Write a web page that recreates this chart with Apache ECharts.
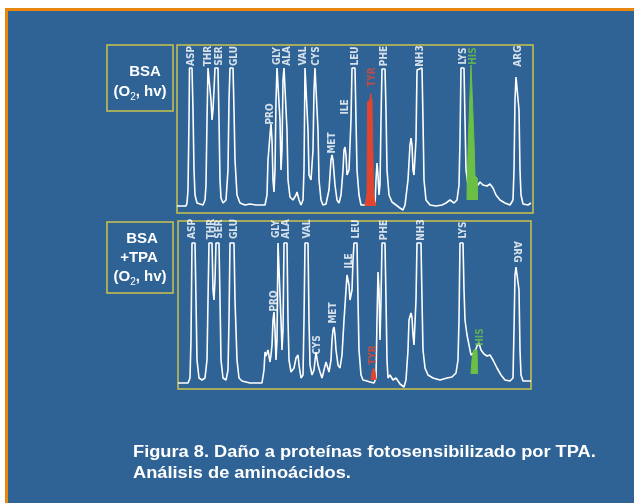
<!DOCTYPE html>
<html><head><meta charset="utf-8">
<script src="https://cdn.jsdelivr.net/npm/echarts@6/dist/echarts.min.js"></script>
<style>html,body{margin:0;padding:0;background:#fff}#c{width:634px;height:503px}</style>
</head><body><div id="c"></div>
<script>
// ---- Panel 1: BSA (O2, hv) chromatogram [retention, response] ----
const topTrace = [[0,7],[9,7],[10,10],[11,23],[12,93],[12.5,145],[15,145],[16,103],[17,43],[18,18],[20,10],[22,8],[26,8],[28,13],[29,28],[30,93],[31,145],[33,145],[34,113],[35,93],[36,103],[37,123],[38,145],[41,145],[42,93],[43,33],[44,15],[46,10],[49,13],[51,43],[52,113],[53,145],[56,145],[57,103],[58,53],[60,18],[63,10],[68,8],[73,9],[79,8],[88,8],[90,18],[91,53],[93,78],[94,89],[95,73],[96,33],[97,21],[98,43],[99,113],[100,145],[102,145],[103,93],[104,43],[105,63],[106,133],[107,145],[109,145],[110,83],[111,33],[113,16],[116,13],[119,18],[120,21],[122,13],[124,8],[126,13],[127,43],[128,145],[130,145],[131,83],[132,38],[134,33],[136,63],[137,123],[138,145],[140,145],[141,83],[142,33],[144,13],[146,8],[149,9],[152,23],[154,53],[155,58],[156,53],[158,28],[160,13],[162,10],[164,18],[166,43],[167,63],[168,66],[169,58],[170,38],[172,43],[174,93],[175,145],[178,145],[179,93],[180,43],[182,18],[184,8],[191,8],[198,8],[199,33],[200,50],[201,38],[202,18],[203,28],[204,93],[205,144],[208,144],[209,103],[210,43],[212,18],[215,11],[219,8],[223,5],[226,3],[228,8],[231,33],[233,68],[234,75],[235,68],[236,43],[237,38],[239,73],[240,143],[241,145],[245,145],[246,93],[247,33],[249,13],[253,8],[259,7],[265,8],[269,10],[273,13],[277,10],[280,13],[282,28],[283,73],[284,145],[287,145],[288,93],[289,43],[291,28],[293,21],[301,28],[303,31],[306,28],[310,27],[313,29],[316,25],[319,18],[323,13],[328,10],[333,8],[336,13],[337,43],[338,113],[339,136],[341,136],[342,103],[343,43],[344,18],[346,9],[351,8],[354,10]];
const topTyr = [[188,7],[189,13],[190,20],[190.5,111],[193,113],[193.5,120],[194.5,120],[195,113],[196.3,111],[196.5,20],[197.5,13],[199,7]];
const topHis = [[290,13],[290.3,35],[291.3,37],[291.3,70],[293,72],[294,148],[295.5,148],[297,72],[298,70],[298,37],[300.3,35],[300.5,13]];
const topLabelNames = ['ASP','THR','SER','GLU','GLY','ALA','VAL','CYS','LEU','PHE','NH3','LYS','HIS','ARG','PRO','MET','ILE','TYR'];
const topLabelX = [14,31,42,57,100,110,126,139,178,207,243,286,296,341,93,155,168,195];
const topLabelY = [157,157,157,157,157,157,157,157,157,157,157,157,157,157,99,70,106,136];

// ---- Panel 2: BSA + TPA (O2, hv) chromatogram ----
const botTrace = [[0,6],[10,6],[12,11],[13,49],[14,146],[17,146],[18,89],[19,29],[21,11],[24,9],[27,11],[29,29],[30,89],[31,146],[34,146],[35,99],[36,89],[37,109],[38,146],[41,146],[42,89],[43,29],[45,11],[48,9],[50,19],[51,69],[52,146],[56,146],[57,89],[59,29],[61,11],[64,8],[72,6],[84,6],[86,19],[87,37],[88,33],[90,39],[92,27],[93,34],[94,44],[95,69],[96,77],[97,59],[98,29],[99,49],[100,146],[102,146],[103,69],[104,39],[105,59],[106,146],[109,146],[110,69],[111,29],[113,17],[116,21],[118,31],[120,34],[121,24],[123,11],[125,14],[126,69],[127,146],[130,146],[131,69],[132,24],[134,14],[136,19],[138,37],[139,37],[140,24],[142,17],[144,11],[146,19],[148,27],[150,29],[151,17],[153,29],[154,49],[155,59],[156,62],[157,54],[158,39],[160,24],[162,21],[164,34],[166,69],[168,99],[169,114],[170,116],[171,104],[172,89],[174,99],[175,129],[176,146],[179,146],[180,89],[181,39],[183,14],[185,9],[189,8],[192,7],[196,6],[198,11],[199,69],[200,117],[201,99],[202,49],[203,89],[204,146],[207,146],[208,89],[209,29],[210,11],[212,14],[215,9],[218,11],[222,5],[226,2],[228,9],[230,39],[231,69],[233,76],[234,71],[235,54],[236,44],[238,89],[239,146],[243,146],[244,89],[245,39],[247,21],[250,14],[255,11],[262,9],[269,11],[274,12],[278,16],[280,29],[281,69],[282,146],[285,146],[286,99],[287,69],[289,54],[291,44],[293,34],[295,34],[297,37],[299,43],[301,46],[303,39],[306,35],[309,33],[312,34],[315,29],[319,21],[323,14],[327,9],[332,8],[335,11],[336,59],[337,114],[338,122],[340,122],[341,99],[342,39],[343,14],[345,8],[353,8]];
const botTyr = [[193,9],[194,17],[195.5,21],[197,17],[198,9]];
const botHis = [[293,15],[294,29],[295.5,39],[297,41],[299,39],[299.5,15]];
const botLabelNames = ['ASP','THR','SER','GLU','GLY','ALA','VAL','LEU','PHE','NH3','LYS','ARG','PRO','ILE','MET','CYS','TYR','HIS'];
const botLabelX = [14,33,41,56,98,108,129,178,206,243,285,339,96,171,155,139,195,302];
const botLabelY = [160,160,160,160,160,160,160,160,159,159,159,137,88,128,76,44,34,52];

const captionLines = ['Figura 8. Daño a proteínas fotosensibilizado por TPA.', 'Análisis de aminoácidos.'];

const BLUE = '#2F6396', YEL = '#CCC44C', RED = '#E2452F', GREEN = '#6CBF45';
const labFont = "'Liberation Sans Narrow','DejaVu Sans Condensed',sans-serif";
const boxFont = "bold 15px 'Liberation Sans',Arial,sans-serif";
const capFont = "bold 16px 'Liberation Sans',Arial,sans-serif";

function labelData(names, xs, ys, flipName) {
  return names.map((n, i) => ({
    value: [xs[i], ys[i]],
    name: n,
    label: {
      color: n === 'TYR' ? RED : (n === 'HIS' ? GREEN : '#FFFFFF'),
      rotate: n === flipName ? -90 : 90
    }
  }));
}
function trace(data, xi) {
  return { type: 'line', xAxisIndex: xi, yAxisIndex: xi, data: data, showSymbol: false, symbol: 'none',
    lineStyle: { color: '#FFFFFF', width: 1.6 }, z: 3, silent: true };
}
function fill(data, xi, color, origin) {
  return { type: 'line', xAxisIndex: xi, yAxisIndex: xi, data: data, showSymbol: false, symbol: 'none',
    lineStyle: { color: color, width: 1 }, areaStyle: { color: color, opacity: 1, origin: origin }, z: 4, silent: true };
}
function labels(data, xi) {
  return { type: 'scatter', xAxisIndex: xi, yAxisIndex: xi, data: data, symbolSize: 1,
    itemStyle: { color: 'rgba(0,0,0,0)' }, z: 5, silent: true,
    label: { show: true, position: 'inside', formatter: '{b}', fontFamily: labFont, fontSize: 10, fontWeight: 'bold', align: 'center', verticalAlign: 'middle' } };
}
const hidden = { show: false };
function xAx(i, max) { return { gridIndex: i, type: 'value', min: 0, max: max, show: false, splitLine: hidden }; }
function yAx(i) { return { gridIndex: i, type: 'value', min: 0, max: 168, show: false, splitLine: hidden }; }

const chart = echarts.init(document.getElementById('c'));
chart.setOption({
  animation: false,
  backgroundColor: '#FFFFFF',
  grid: [
    { left: 177, top: 45, width: 356, height: 168, show: true, borderColor: YEL, borderWidth: 1.5, backgroundColor: 'transparent' },
    { left: 178, top: 221, width: 353, height: 168, show: true, borderColor: YEL, borderWidth: 1.5, backgroundColor: 'transparent' }
  ],
  xAxis: [xAx(0, 356), xAx(1, 353)],
  yAxis: [yAx(0), yAx(1)],
  graphic: [
    { type: 'rect', shape: { x: 5, y: 8, width: 629, height: 495 }, style: { fill: '#E8860E' }, z: -10 },
    { type: 'rect', shape: { x: 8, y: 11, width: 626, height: 492 }, style: { fill: BLUE }, z: -9 },
    { type: 'rect', shape: { x: 107, y: 45, width: 66, height: 66 }, style: { fill: 'none', stroke: YEL, lineWidth: 1.5 }, z: -8 },
    { type: 'rect', shape: { x: 107, y: 222, width: 66, height: 71 }, style: { fill: 'none', stroke: YEL, lineWidth: 1.5 }, z: -8 },
    { type: 'text', x: 145, y: 72, style: { text: 'BSA', fill: '#fff', font: boxFont, textAlign: 'center', textVerticalAlign: 'middle' } },
    { type: 'text', x: 140, y: 92, style: { text: '(O{s|2}, hv)', rich: { s: { fontSize: 10, padding: [10, 0, 0, 0] } }, fill: '#fff', font: boxFont, textAlign: 'center', textVerticalAlign: 'middle' } },
    { type: 'text', x: 142, y: 239, style: { text: 'BSA', fill: '#fff', font: boxFont, textAlign: 'center', textVerticalAlign: 'middle' } },
    { type: 'text', x: 139, y: 258, style: { text: '+TPA', fill: '#fff', font: boxFont, textAlign: 'center', textVerticalAlign: 'middle', textShadowColor: '#000', textShadowOffsetX: 1, textShadowOffsetY: 1, textShadowBlur: 0 } },
    { type: 'text', x: 140, y: 277, style: { text: '(O{s|2}, hv)', rich: { s: { fontSize: 10, padding: [10, 0, 0, 0] } }, fill: '#fff', font: boxFont, textAlign: 'center', textVerticalAlign: 'middle' } },
    { type: 'text', x: 133, y: 453, scaleX: 1.14, style: { text: captionLines[0], fill: '#fff', font: capFont, textAlign: 'left', textVerticalAlign: 'middle' } },
    { type: 'text', x: 133, y: 474, scaleX: 1.14, style: { text: captionLines[1], fill: '#fff', font: capFont, textAlign: 'left', textVerticalAlign: 'middle' } }
  ],
  series: [
    trace(topTrace, 0),
    fill(topTyr, 0, RED, 7),
    fill(topHis, 0, GREEN, 13),
    labels(labelData(topLabelNames, topLabelX, topLabelY, null), 0),
    trace(botTrace, 1),
    fill(botTyr, 1, RED, 9),
    fill(botHis, 1, GREEN, 15),
    labels(labelData(botLabelNames, botLabelX, botLabelY, 'ARG'), 1)
  ]
});
</script></body></html>
